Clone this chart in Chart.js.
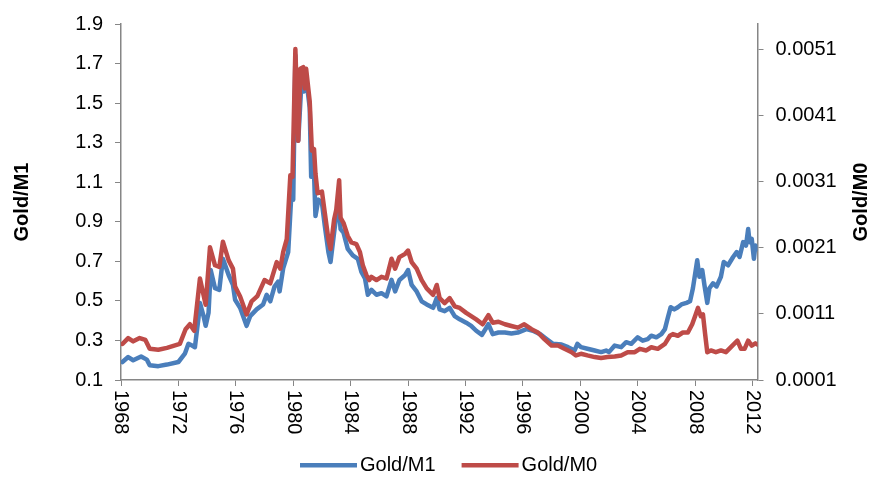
<!DOCTYPE html>
<html lang="en">
<head>
<meta charset="UTF-8">
<title>Gold/M1 и Gold/M0</title>
<script src="https://cdn.jsdelivr.net/npm/chart.js"></script>
<style>
    html, body { margin: 0; padding: 0; background: #fff; }
    #wrap { width: 882px; height: 479px; }
</style>
</head>
<body>
<div id="wrap"><canvas id="gold-chart" width="882" height="479"></canvas></div>
<script>
    // Gold/M1 (left axis)
    const m1Years = [1968.1, 1968.5, 1968.85, 1969.4, 1969.8, 1970.0, 1970.6, 1971.2, 1972.0, 1972.45,
        1972.7, 1972.95, 1973.15, 1973.4, 1973.5, 1973.75, 1973.9, 1974.1, 1974.25, 1974.55,
        1974.85, 1975.1, 1975.5, 1975.8, 1975.95, 1976.3, 1976.75, 1977.0, 1977.45, 1977.9,
        1978.15, 1978.4, 1978.7, 1978.95, 1979.05, 1979.3, 1979.65, 1979.85, 1980.0, 1980.15,
        1980.35, 1980.6, 1980.75, 1980.9, 1981.15, 1981.25, 1981.45, 1981.55, 1981.75, 1982.0,
        1982.2, 1982.45, 1982.6, 1982.85, 1983.0, 1983.2, 1983.3, 1983.5, 1983.8, 1984.15,
        1984.5, 1984.75, 1985.0, 1985.2, 1985.45, 1985.8, 1986.15, 1986.5, 1986.85, 1987.1,
        1987.4, 1987.8, 1988.0, 1988.25, 1988.6, 1988.95, 1989.3, 1989.75, 1990.0, 1990.2,
        1990.55, 1990.9, 1991.25, 1991.6, 1992.05, 1992.4, 1992.75, 1993.15, 1993.6, 1993.9,
        1994.3, 1994.75, 1995.2, 1995.65, 1996.25, 1996.7, 1997.2, 1997.65, 1998.1, 1998.7,
        1999.15, 1999.6, 1999.8, 2000.05, 2000.5, 2001.0, 2001.45, 2001.8, 2002.0, 2002.4,
        2002.85, 2003.2, 2003.55, 2004.0, 2004.35, 2004.7, 2004.95, 2005.3, 2005.65, 2005.9,
        2006.1, 2006.3, 2006.55, 2006.8, 2007.05, 2007.4, 2007.65, 2007.85, 2008.15, 2008.3,
        2008.5, 2008.65, 2008.85, 2009.0, 2009.25, 2009.5, 2009.8, 2010.0, 2010.3, 2010.65,
        2010.9, 2011.1, 2011.35, 2011.55, 2011.7, 2011.8, 2011.95, 2012.1, 2012.2, 2012.35];
    const m1Values = [0.191, 0.216, 0.2, 0.219, 0.203, 0.175, 0.17, 0.178, 0.191, 0.233,
        0.283, 0.274, 0.266, 0.415, 0.49, 0.423, 0.374, 0.44, 0.656, 0.564,
        0.556, 0.713, 0.631, 0.581, 0.506, 0.465, 0.374, 0.423, 0.457, 0.482,
        0.531, 0.498, 0.573, 0.598, 0.548, 0.664, 0.747, 1.012, 1.012, 1.742,
        1.31, 1.642, 1.559, 1.626, 1.477, 1.128, 1.145, 0.929, 1.012, 0.996,
        0.88, 0.747, 0.697, 0.846, 0.93, 0.96, 0.863, 0.846, 0.763, 0.73,
        0.713, 0.647, 0.614, 0.531, 0.556, 0.531, 0.539, 0.523, 0.606, 0.548,
        0.606, 0.631, 0.656, 0.581, 0.548, 0.498, 0.482, 0.465, 0.514, 0.457,
        0.448, 0.465, 0.423, 0.407, 0.39, 0.374, 0.349, 0.328, 0.382, 0.332,
        0.34, 0.34, 0.335, 0.34, 0.357, 0.349, 0.332, 0.307, 0.283, 0.279,
        0.266, 0.249, 0.283, 0.266, 0.258, 0.249, 0.241, 0.249, 0.241, 0.274,
        0.266, 0.291, 0.283, 0.316, 0.299, 0.307, 0.324, 0.316, 0.332, 0.357,
        0.415, 0.468, 0.457, 0.468, 0.482, 0.49, 0.498, 0.564, 0.705, 0.622,
        0.656, 0.581, 0.49, 0.564, 0.589, 0.573, 0.622, 0.697, 0.68, 0.722,
        0.747, 0.722, 0.797, 0.78, 0.863, 0.797, 0.813, 0.713, 0.78, 0.763];

    // Gold/M0 (right axis)
    const m0Years = [1968.1, 1968.5, 1968.85, 1969.3, 1969.7, 1970.0, 1970.6, 1971.2, 1972.1, 1972.5,
        1972.8, 1973.1, 1973.5, 1973.9, 1974.2, 1974.55, 1974.85, 1975.1, 1975.5, 1975.8,
        1975.95, 1976.3, 1976.75, 1977.1, 1977.5, 1978.0, 1978.4, 1978.85, 1979.1, 1979.3,
        1979.55, 1979.8, 1979.95, 1980.15, 1980.35, 1980.5, 1980.7, 1980.8, 1980.9, 1981.15,
        1981.3, 1981.45, 1981.55, 1981.7, 1982.0, 1982.2, 1982.45, 1982.6, 1982.85, 1983.0,
        1983.2, 1983.3, 1983.5, 1983.8, 1984.05, 1984.4, 1984.65, 1984.85, 1985.1, 1985.3,
        1985.45, 1985.8, 1986.15, 1986.5, 1986.85, 1987.1, 1987.4, 1987.8, 1988.0, 1988.25,
        1988.6, 1988.95, 1989.3, 1989.75, 1990.0, 1990.2, 1990.55, 1990.9, 1991.25, 1991.6,
        1992.05, 1992.4, 1992.75, 1993.2, 1993.6, 1993.9, 1994.3, 1994.75, 1995.2, 1995.65,
        1996.1, 1996.6, 1997.05, 1997.5, 1998.0, 1998.45, 1998.9, 1999.4, 1999.7, 2000.05,
        2000.5, 2001.0, 2001.45, 2001.9, 2002.4, 2002.85, 2003.3, 2003.8, 2004.15, 2004.6,
        2004.95, 2005.4, 2005.9, 2006.25, 2006.45, 2006.8, 2007.15, 2007.5, 2007.8, 2008.0,
        2008.2, 2008.4, 2008.55, 2008.7, 2008.85, 2009.1, 2009.45, 2009.8, 2010.15, 2010.6,
        2010.95, 2011.2, 2011.45, 2011.7, 2011.95, 2012.2, 2012.35];
    const m0Values = [0.000646, 0.000735, 0.000685, 0.000735, 0.000706, 0.000572, 0.000557, 0.000587, 0.000646, 0.000869,
        0.000944, 0.000844, 0.001637, 0.00124, 0.00211, 0.001837, 0.001811, 0.002194, 0.001911, 0.001786,
        0.001514, 0.001365, 0.001093, 0.00129, 0.00137, 0.001613, 0.001563, 0.001886, 0.001786, 0.002035,
        0.002232, 0.0032, 0.003176, 0.005111, 0.003721, 0.004812, 0.004837, 0.004515, 0.004812, 0.004316,
        0.003572, 0.003597, 0.003225, 0.002927, 0.002953, 0.00263, 0.002232, 0.002084, 0.00253, 0.002679,
        0.003126, 0.002555, 0.00248, 0.00228, 0.002183, 0.002158, 0.002035, 0.001837, 0.001688, 0.001613,
        0.001663, 0.001613, 0.001663, 0.001637, 0.001935, 0.001786, 0.00196, 0.00201, 0.00206, 0.001886,
        0.001786, 0.001613, 0.001488, 0.00139, 0.001539, 0.00134, 0.001265, 0.00134, 0.001216, 0.001191,
        0.001116, 0.001067, 0.001018, 0.000944, 0.001082, 0.000968, 0.000982, 0.000944, 0.000918, 0.000893,
        0.000944, 0.000869, 0.000819, 0.00072, 0.000621, 0.000621, 0.000572, 0.000521, 0.000472, 0.000497,
        0.000472, 0.000447, 0.000432, 0.000447, 0.000457, 0.000472, 0.000521, 0.000521, 0.000572, 0.000547,
        0.000596, 0.000572, 0.000646, 0.00077, 0.000795, 0.00077, 0.000819, 0.000819, 0.000944, 0.001067,
        0.001191, 0.001067, 0.001093, 0.000795, 0.000521, 0.000547, 0.000521, 0.000547, 0.000521, 0.000621,
        0.000695, 0.000572, 0.000572, 0.000695, 0.000621, 0.000655, 0.000636];

    const yearTicks = [1968, 1972, 1976, 1980, 1984, 1988, 1992, 1996, 2000, 2004, 2008, 2012];
    const m1Ticks = [0.1, 0.3, 0.5, 0.7, 0.9, 1.1, 1.3, 1.5, 1.7, 1.9];
    const m0Ticks = [0.0001, 0.0011, 0.0021, 0.0031, 0.0041, 0.0051];

    const axisColor = '#868686';
    const fontFamily = '"Liberation Sans", Arial, sans-serif';

    function toPoints(xs, ys) {
        return xs.map((x, i) => ({ x: x, y: ys[i] }));
    }

    // year labels (rotated down), axis titles and legend
    const extras = {
        id: 'extras',
        afterDraw(chart) {
            const ctx = chart.ctx;
            const xScale = chart.scales.x;
            const area = chart.chartArea;
            ctx.save();
            ctx.fillStyle = '#000';

            ctx.font = '20px ' + fontFamily;
            ctx.textAlign = 'left';
            ctx.textBaseline = 'middle';
            yearTicks.forEach(year => {
                ctx.save();
                ctx.translate(xScale.getPixelForValue(year), xScale.top + 10);
                ctx.rotate(Math.PI / 2);
                ctx.fillText(String(year), 0, 0);
                ctx.restore();
            });

            ctx.font = 'bold 20px ' + fontFamily;
            ctx.textAlign = 'center';
            const midY = (area.top + area.bottom) / 2;
            [['Gold/M1', 22], ['Gold/M0', 861]].forEach(([text, tx]) => {
                ctx.save();
                ctx.translate(tx, midY);
                ctx.rotate(-Math.PI / 2);
                ctx.fillText(text, 0, 0);
                ctx.restore();
            });

            ctx.font = '20px ' + fontFamily;
            ctx.textAlign = 'left';
            let lx = 300;
            const ly = 465;
            chart.data.datasets.forEach(ds => {
                ctx.fillStyle = ds.borderColor;
                ctx.fillRect(lx, ly - 2, 57, 4.5);
                lx += 60;
                ctx.fillStyle = '#000';
                ctx.fillText(ds.label, lx, ly);
                lx += ctx.measureText(ds.label).width + 26;
            });
            ctx.restore();
        }
    };

    const ctx = document.getElementById('gold-chart').getContext('2d');
    new Chart(ctx, {
        type: 'line',
        data: {
            datasets: [{
                label: 'Gold/M1',
                data: toPoints(m1Years, m1Values),
                yAxisID: 'y',
                borderColor: '#4A7EBB',
                borderWidth: 4.5,
                order: 1
            }, {
                label: 'Gold/M0',
                data: toPoints(m0Years, m0Values),
                yAxisID: 'y1',
                borderColor: '#BE4B48',
                borderWidth: 4.5,
                order: 0
            }]
        },
        options: {
            responsive: false,
            animation: false,
            events: [],
            layout: { padding: { top: 18, left: 0, right: 0, bottom: 0 } },
            elements: {
                point: { radius: 0 },
                line: { tension: 0, borderJoinStyle: 'round', borderCapStyle: 'round' }
            },
            plugins: {
                legend: { display: false },
                tooltip: { enabled: false }
            },
            scales: {
                x: {
                    type: 'linear',
                    min: 1968,
                    max: 2012.35,
                    afterBuildTicks: axis => { axis.ticks = yearTicks.map(v => ({ value: v })); },
                    afterFit: axis => { axis.height = 99; },
                    ticks: { display: false },
                    grid: { drawOnChartArea: false, drawTicks: true, tickLength: 6, color: axisColor },
                    border: { color: axisColor, width: 1.5 }
                },
                y: {
                    position: 'left',
                    min: 0.1,
                    max: 1.9,
                    afterBuildTicks: axis => { axis.ticks = m1Ticks.map(v => ({ value: v })); },
                    afterFit: axis => { axis.width = 121; },
                    ticks: {
                        color: '#000',
                        padding: 12,
                        font: { size: 20, family: fontFamily },
                        callback: v => v.toFixed(1)
                    },
                    grid: { drawOnChartArea: false, drawTicks: true, tickLength: 6, color: axisColor },
                    border: { color: axisColor, width: 1.5 }
                },
                y1: {
                    position: 'right',
                    min: 0.0001,
                    max: 0.00549,
                    afterBuildTicks: axis => { axis.ticks = m0Ticks.map(v => ({ value: v })); },
                    afterFit: axis => { axis.width = 124.5; },
                    ticks: {
                        color: '#000',
                        padding: 12,
                        font: { size: 20, family: fontFamily },
                        callback: v => v.toFixed(4)
                    },
                    grid: { drawOnChartArea: false, drawTicks: true, tickLength: 6, color: axisColor },
                    border: { color: axisColor, width: 1.5 }
                }
            }
        },
        plugins: [extras]
    });
</script>
</body>
</html>
